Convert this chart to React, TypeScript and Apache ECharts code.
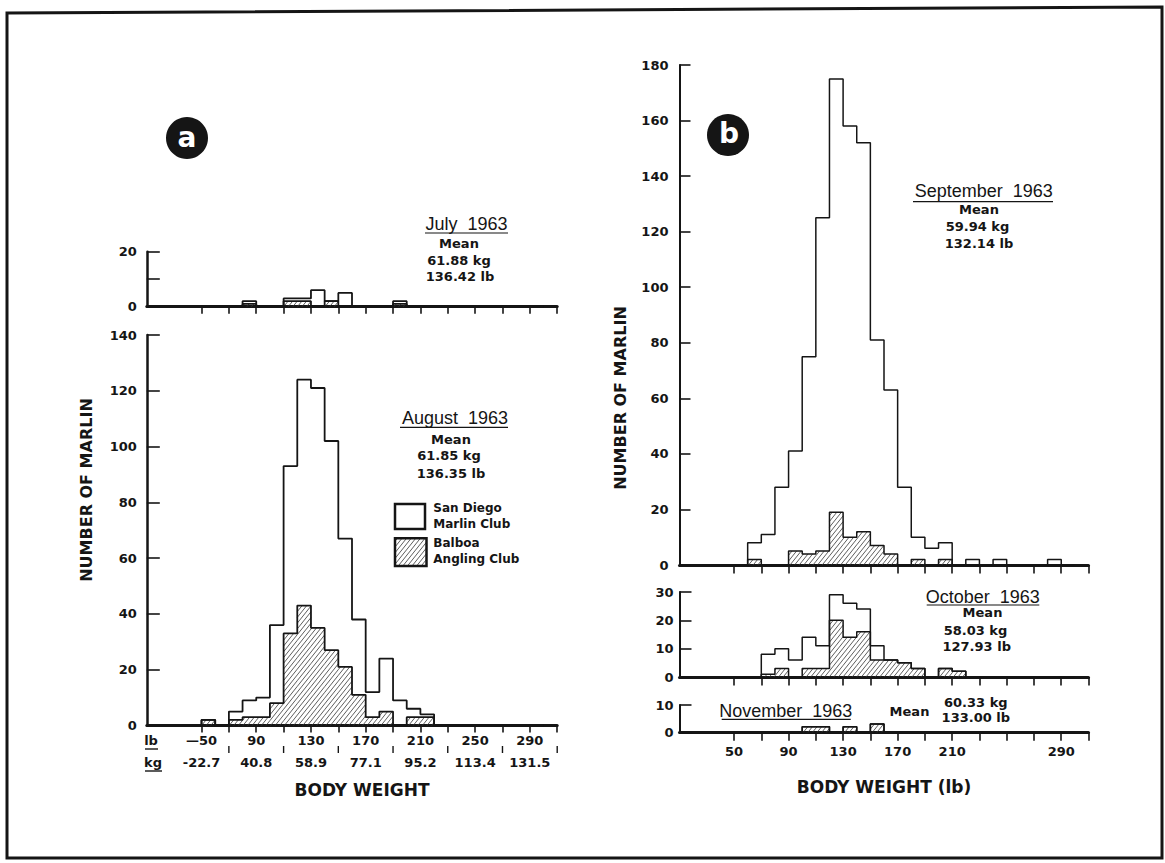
import React, { useEffect, useRef } from "react";
import * as echarts from "echarts";

// ---------------- data ----------------
const BIN_WIDTH = 10; // lb per histogram class
const binStarts = [50, 60, 70, 80, 90, 100, 110, 120, 130, 140, 150, 160, 170, 180, 190, 200, 210, 220, 230, 240, 250, 260, 270, 280, 290];

//                      50 60 70  80  90 100 110 120 130 140 150 160 170 180 190 200 210 220 230 240 250 260 270 280 290
const julySanDiego =      [0, 0, 0, 2, 0, 0, 3, 3, 6, 2, 5, 0, 0, 0, 2, 0, 0, 0, 0, 0, 0, 0, 0, 0, 0];
const julyBalboa =        [0, 0, 0, 1, 0, 0, 2, 2, 0, 2, 0, 0, 0, 0, 1, 0, 0, 0, 0, 0, 0, 0, 0, 0, 0];
const augustSanDiego =    [2, 0, 5, 9, 10, 36, 93, 124, 121, 102, 67, 38, 12, 24, 9, 6, 4, 0, 0, 0, 0, 0, 0, 0, 0];
const augustBalboa =      [2, 0, 2, 3, 3, 8, 33, 43, 35, 27, 21, 11, 3, 5, 0, 3, 3, 0, 0, 0, 0, 0, 0, 0, 0];
const septemberSanDiego = [0, 8, 11, 28, 41, 75, 125, 175, 158, 152, 81, 63, 28, 10, 6, 8, 0, 2, 0, 2, 0, 0, 0, 2, 0];
const septemberBalboa =   [0, 2, 0, 0, 5, 4, 5, 19, 10, 12, 7, 4, 0, 2, 0, 2, 0, 0, 0, 0, 0, 0, 0, 0, 0];
const octoberSanDiego =   [0, 0, 8, 10, 6, 14, 11, 29, 26, 24, 11, 6, 5, 3, 0, 3, 2, 0, 0, 0, 0, 0, 0, 0, 0];
const octoberBalboa =     [0, 0, 1, 3, 0, 3, 3, 20, 14, 16, 6, 6, 5, 3, 0, 3, 2, 0, 0, 0, 0, 0, 0, 0, 0];
const novemberSanDiego =  [0, 0, 0, 0, 0, 2, 2, 0, 2, 0, 3, 0, 0, 0, 0, 0, 0, 0, 0, 0, 0, 0, 0, 0, 0];
const novemberBalboa =    [0, 0, 0, 0, 0, 2, 2, 0, 2, 0, 3, 0, 0, 0, 0, 0, 0, 0, 0, 0, 0, 0, 0, 0, 0];

const xTickValues = [50, 70, 90, 110, 130, 150, 170, 190, 210, 230, 250, 270, 290, 310];
const lbLabelValues = [50, 90, 130, 170, 210, 250, 290];
const lbLabels = ["—50", "90", "130", "170", "210", "250", "290"];
const kgLabels = ["-22.7", "40.8", "58.9", "77.1", "95.2", "113.4", "131.5"];
const betweenLabelTicks = [70, 110, 150, 190, 230, 270, 310];
const panelBLabelValues = [50, 90, 130, 170, 210, 290];

// ---------------- styling ----------------
const INK = "#151515";
const BOLD_FONT = "DejaVu Sans";
const TITLE_FONT = "Liberation Sans";

function stepPoints(values: number[]) {
  const pts: number[][] = [[binStarts[0], 0]];
  values.forEach((v, i) => pts.push([binStarts[i], v]));
  pts.push([binStarts[binStarts.length - 1] + BIN_WIDTH, 0]);
  return pts;
}

function hatchLines(x0: number, x1: number, yT: number, yB: number) {
  const k = 1.25; // slope
  const spacing = 4.6; // horizontal px spacing
  const s = spacing * k;
  const lines: any[] = [];
  const cMin = k * x0 + yT;
  const cMax = k * x1 + yB;
  for (let c = Math.ceil(cMin / s) * s; c <= cMax; c += s) {
    const xa = Math.max(x0, (c - yB) / k);
    const xb = Math.min(x1, (c - yT) / k);
    if (xb - xa > 0.3) {
      lines.push({
        type: "line",
        shape: { x1: xa, y1: c - k * xa, x2: xb, y2: c - k * xb },
        style: { stroke: "#333", lineWidth: 0.8 },
        silent: true,
      });
    }
  }
  return lines;
}

type Panel = {
  sd: number[];
  bb: number[];
  grid: { left: number; top: number; width: number; height: number };
  yMax: number;
  yInterval: number;
  hideY?: number[];
  yMargin: number;
  tickLen: number;
  xTickLen: number;
  yLineWidth: number;
  outline: number;
};

const panels: Panel[] = [
  { sd: julySanDiego, bb: julyBalboa, grid: { left: 146.8, top: 251.7, width: 410.4, height: 55 }, yMax: 20, yInterval: 10, hideY: [10], yMargin: 10, tickLen: 13, xTickLen: 7, yLineWidth: 2.5, outline: 1.8 },
  { sd: augustSanDiego, bb: augustBalboa, grid: { left: 146.8, top: 335, width: 410.4, height: 390.5 }, yMax: 140, yInterval: 20, yMargin: 10, tickLen: 13, xTickLen: 7, yLineWidth: 2.5, outline: 1.8 },
  { sd: septemberSanDiego, bb: septemberBalboa, grid: { left: 679.5, top: 65, width: 409, height: 500 }, yMax: 180, yInterval: 20, yMargin: 11, tickLen: 11, xTickLen: 8.5, yLineWidth: 2, outline: 1.5 },
  { sd: octoberSanDiego, bb: octoberBalboa, grid: { left: 679.5, top: 592, width: 409, height: 85 }, yMax: 30, yInterval: 10, yMargin: 6, tickLen: 12, xTickLen: 8.5, yLineWidth: 2, outline: 1.5 },
  { sd: novemberSanDiego, bb: novemberBalboa, grid: { left: 679.5, top: 705, width: 409, height: 27.3 }, yMax: 10, yInterval: 10, yMargin: 6, tickLen: 12, xTickLen: 8.5, yLineWidth: 2, outline: 1.5 },
];

function buildOption() {
  const labelStyle = { color: INK, fontFamily: BOLD_FONT, fontWeight: "bold" as const, fontSize: 13 };
  const grid = panels.map((p) => ({ ...p.grid, containLabel: false }));
  const xAxis = panels.map((p, i) => {
    const ax: any = {
      type: "value",
      gridIndex: i,
      min: 10,
      max: 310,
      interval: 20,
      axisLine: { show: true, onZero: false, lineStyle: { color: INK, width: 3 } },
      axisTick: { show: true, inside: false, length: p.xTickLen, customValues: xTickValues, lineStyle: { color: INK, width: 1.6 } },
      axisLabel: { show: false },
      splitLine: { show: false },
    };
    if (i === 1) {
      ax.axisLabel = {
        show: true,
        customValues: lbLabelValues,
        margin: 3.5,
        formatter: (v: number) => {
          const idx = lbLabelValues.indexOf(v);
          if (idx < 0) return "";
          return `{lb|${lbLabels[idx]}}\n{kg|${kgLabels[idx]}}`;
        },
        rich: {
          lb: { ...labelStyle, lineHeight: 22 },
          kg: { ...labelStyle, lineHeight: 22 },
        },
      };
    }
    if (i === 4) {
      ax.axisLabel = {
        show: true,
        ...labelStyle,
        customValues: panelBLabelValues,
        margin: 13,
        formatter: (v: number) => (panelBLabelValues.indexOf(v) < 0 ? "" : String(v)),
      };
    }
    return ax;
  });
  const yAxis = panels.map((p, i) => ({
    type: "value",
    gridIndex: i,
    min: 0,
    max: p.yMax,
    interval: p.yInterval,
    axisLine: { show: true, lineStyle: { color: INK, width: p.yLineWidth } },
    axisTick: { show: true, inside: true, length: p.tickLen, lineStyle: { color: INK, width: 1.6 } },
    axisLabel: {
      ...labelStyle,
      margin: p.yMargin,
      formatter: (v: number) => (p.hideY && p.hideY.indexOf(v) >= 0 ? "" : String(v)),
    },
    splitLine: { show: false },
  }));

  const series: any[] = [];
  panels.forEach((p, i) => {
    const hatchData = binStarts.map((b, j) => [b, p.bb[j]]).filter((d) => d[1] > 0);
    series.push({
      type: "custom",
      name: "Balboa Angling Club",
      xAxisIndex: i,
      yAxisIndex: i,
      z: 2,
      silent: true,
      clip: false,
      data: hatchData,
      renderItem: (_params: any, api: any) => {
        const start = api.value(0);
        const v = api.value(1);
        const p0 = api.coord([start, 0]);
        const p1 = api.coord([start + BIN_WIDTH, v]);
        return { type: "group", children: hatchLines(p0[0], p1[0], p1[1], p0[1]) };
      },
    });
    series.push({
      type: "line",
      name: "San Diego Marlin Club",
      xAxisIndex: i,
      yAxisIndex: i,
      step: "end",
      symbol: "none",
      z: 3,
      silent: true,
      lineStyle: { color: INK, width: p.outline },
      data: stepPoints(p.sd),
    });
    series.push({
      type: "line",
      name: "Balboa Angling Club outline",
      xAxisIndex: i,
      yAxisIndex: i,
      step: "end",
      symbol: "none",
      z: 4,
      silent: true,
      lineStyle: { color: INK, width: p.outline },
      data: stepPoints(p.bb),
    });
  });

  return {
    animation: false,
    backgroundColor: "#ffffff",
    textStyle: { fontFamily: BOLD_FONT },
    grid,
    xAxis,
    yAxis,
    series,
  };
}

function text(x: number, y: number, t: string, font: string, extra: any = {}) {
  return {
    type: "text",
    x,
    y,
    silent: true,
    ...extra,
    style: { text: t, font, fill: INK, align: "center", verticalAlign: "middle", textAlign: "center", textVerticalAlign: "middle" },
  };
}
function line(x1: number, y1: number, x2: number, y2: number, w = 1.2) {
  return { type: "line", silent: true, shape: { x1, y1, x2, y2 }, style: { stroke: INK, lineWidth: w } };
}

function staticGraphics() {
  const title = `18px "${TITLE_FONT}"`;
  const small = `bold 13px "${BOLD_FONT}"`;
  const legendFont = `bold 12px "${BOLD_FONT}"`;
  const axisTitle = `bold 16px "${BOLD_FONT}"`;
  const g: any[] = [];
  // frame
  g.push({ type: "polygon", silent: true, shape: { points: [[7, 13], [1162, 7], [1162, 858], [7, 858]] }, style: { fill: "none", stroke: INK, lineWidth: 3 } });
  // panel badges
  g.push({ type: "circle", silent: true, shape: { cx: 187, cy: 138, r: 21 }, style: { fill: INK } });
  g.push(text(187, 137, "a", `bold 28px "${BOLD_FONT}"`));
  g[g.length - 1].style.fill = "#fff";
  g.push({ type: "circle", silent: true, shape: { cx: 728, cy: 135, r: 21 }, style: { fill: INK } });
  g.push(text(729, 133, "b", `bold 28px "${BOLD_FONT}"`));
  g[g.length - 1].style.fill = "#fff";
  // axis titles
  g.push(text(86, 490, "NUMBER OF MARLIN", axisTitle, { rotation: Math.PI / 2 }));
  g.push(text(620, 398, "NUMBER OF MARLIN", axisTitle, { rotation: Math.PI / 2 }));
  g.push(text(362, 790, "BODY WEIGHT", `bold 17px "${BOLD_FONT}"`));
  g.push(text(884, 787, "BODY WEIGHT (lb)", `bold 17px "${BOLD_FONT}"`));
  // lb / kg row labels
  g.push(text(151, 740, "lb", small));
  g.push(line(145, 749, 158, 749, 1.4));
  g.push(text(153, 762, "kg", small));
  g.push(line(145, 771, 162, 771, 1.4));
  // July
  g.push(text(466.5, 224, "July  1963", title));
  g.push(line(425, 233, 508, 233));
  g.push(text(459, 243.3, "Mean", small));
  g.push(text(459, 260, "61.88 kg", small));
  g.push(text(460, 276.7, "136.42 lb", small));
  // August
  g.push(text(455, 418, "August  1963", title));
  g.push(line(400, 427.3, 508, 427.3));
  g.push(text(451, 439, "Mean", small));
  g.push(text(449, 455.7, "61.85 kg", small));
  g.push(text(451, 473.3, "136.35 lb", small));
  // legend
  g.push({ type: "rect", silent: true, shape: { x: 395, y: 504, width: 30, height: 25 }, style: { fill: "#fff", stroke: INK, lineWidth: 2.5 } });
  g.push({ type: "group", silent: true, children: hatchLines(395, 426.5, 538.3, 566) });
  g.push({ type: "rect", silent: true, shape: { x: 395, y: 538.3, width: 31.5, height: 27.7 }, style: { fill: "none", stroke: INK, lineWidth: 2.5 } });
  const lt = (x: number, y: number, t: string) => ({ ...text(x, y, t, legendFont), style: { ...text(x, y, t, legendFont).style, align: "left", textAlign: "left" } });
  g.push(lt(433.3, 508.3, "San Diego"));
  g.push(lt(433.3, 523.5, "Marlin Club"));
  g.push(lt(433.3, 543.3, "Balboa"));
  g.push(lt(433.3, 559.3, "Angling Club"));
  // September
  g.push(text(983.7, 190.7, "September  1963", title));
  g.push(line(913, 201.7, 1053, 201.7));
  g.push(text(979, 209, "Mean", small));
  g.push(text(977.5, 226.7, "59.94 kg", small));
  g.push(text(979, 243.3, "132.14 lb", small));
  // October
  g.push(text(982.7, 596.7, "October  1963", title));
  g.push(line(926.7, 605, 1039.3, 605));
  g.push(text(982.5, 612.7, "Mean", small));
  g.push(text(975.5, 630, "58.03 kg", small));
  g.push(text(976.7, 646, "127.93 lb", small));
  // November
  g.push(text(785.7, 711, "November  1963", title));
  g.push(line(721.7, 719.3, 850.7, 719.3));
  g.push(text(909.5, 711, "Mean", small));
  g.push(text(975.8, 702.3, "60.33 kg", small));
  g.push(text(975.8, 717.7, "133.00 lb", small));
  return g;
}

export default function App() {
  const ref = useRef<HTMLDivElement>(null);
  useEffect(() => {
    if (!ref.current) return;
    const chart = echarts.init(ref.current, undefined, { renderer: "svg" });
    chart.setOption(buildOption() as any);
    const extra = betweenLabelTicks.map((v) => {
      const x = chart.convertToPixel({ xAxisIndex: 1 } as any, v) as unknown as number;
      return line(x, 746, x, 753, 1.4);
    });
    chart.setOption({ graphic: [...staticGraphics(), ...extra] } as any);
    return () => chart.dispose();
  }, []);
  return (
    <div
      ref={ref}
      style={{ position: "fixed", left: 0, top: 0, width: 1165, height: 863, background: "#fff" }}
    />
  );
}
